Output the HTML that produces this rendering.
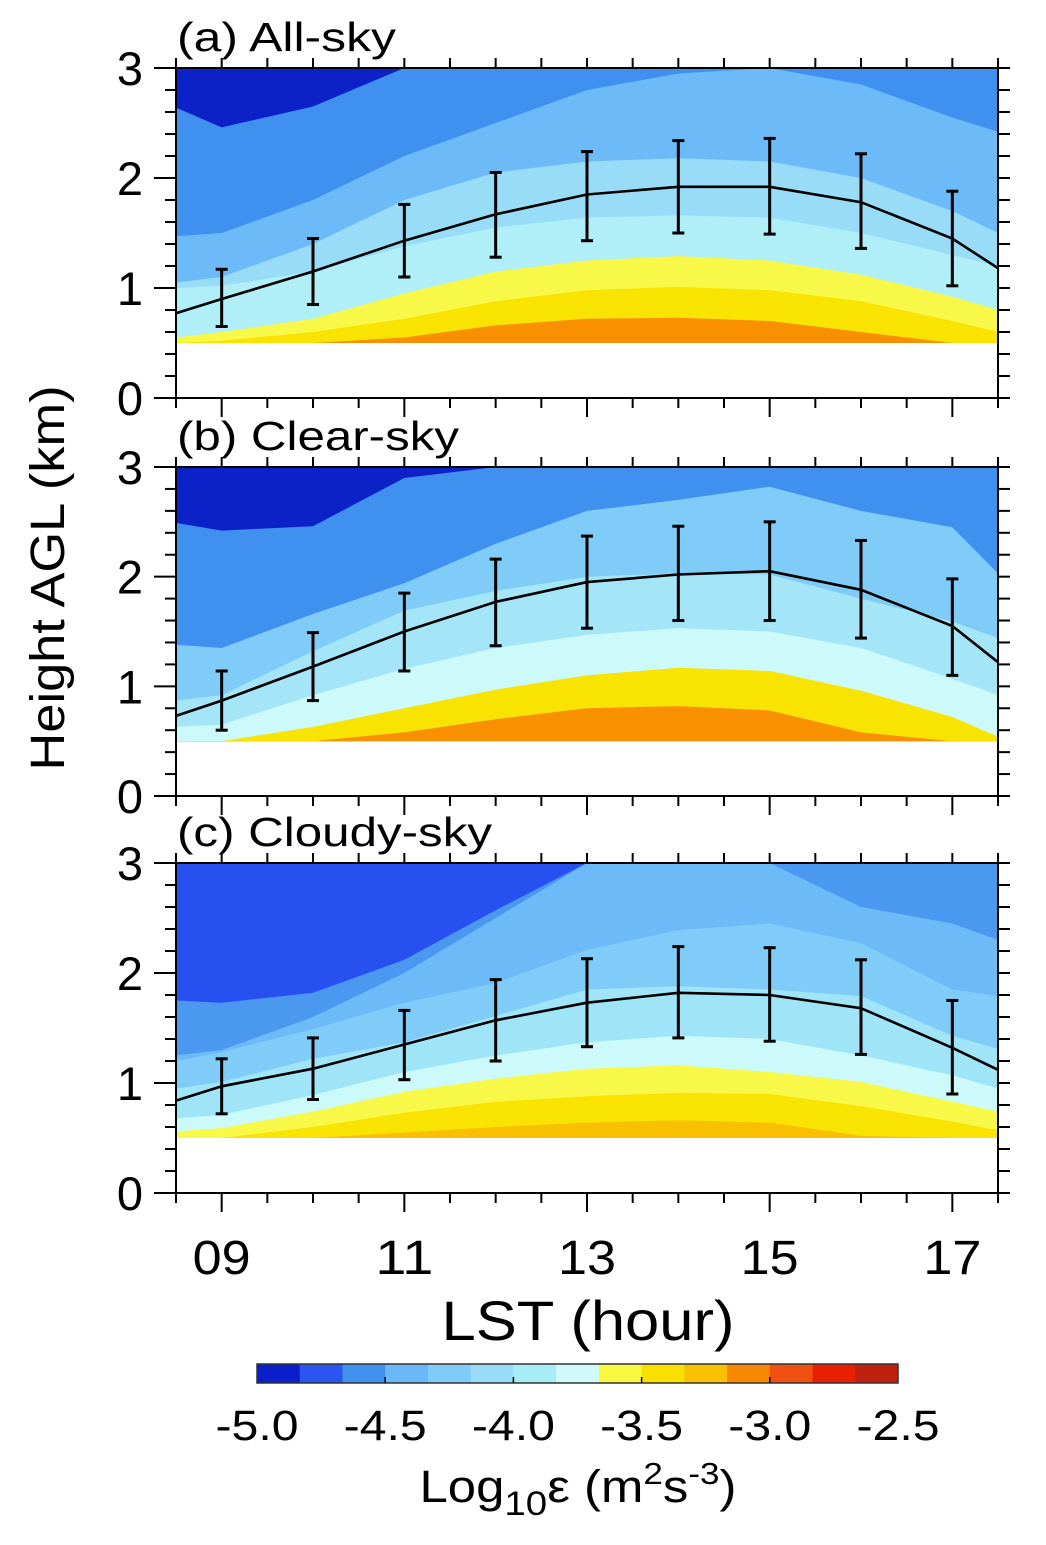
<!DOCTYPE html>
<html><head><meta charset="utf-8"><title>Diurnal dissipation rate</title>
<style>html,body{margin:0;padding:0;background:#fff}svg{display:block;font-family:"Liberation Sans",Arial,sans-serif}</style>
</head><body>
<svg id="fig" width="1046" height="1545" viewBox="0 0 1046 1545" xmlns="http://www.w3.org/2000/svg"></svg>
<script>
// ---- data ----
const hours = [8.5, 9, 10, 11, 12, 13, 14, 15, 16, 17, 17.5];
const tickHours = [9, 11, 13, 15, 17];
const tickHourLabels = ["09", "11", "13", "15", "17"];
const yTicks = [0, 1, 2, 3];
const cbValues = [-5.0, -4.5, -4.0, -3.5, -3.0, -2.5];
const cbLabels = ["-5.0", "-4.5", "-4.0", "-3.5", "-3.0", "-2.5"];
const cbColors = ["#0a1ecc","#2a55f0","#4090f0","#6ab8f8","#80ccf8","#98dcf8","#a8ecf8","#d0fafa","#f8f840","#f8e000","#f8c000","#f88800","#f05010","#e82000","#c02010"];

// panel (a) all-sky: band tops (km), bottom-up
const aOrange = [0.5,0.5,0.5,0.55,0.66,0.72,0.73,0.7,0.6,0.5,0.5];
const aYellow = [0.5,0.52,0.6,0.72,0.88,0.98,1.01,0.98,0.88,0.7,0.6];
const aLYellow = [0.55,0.6,0.72,0.95,1.15,1.25,1.29,1.25,1.12,0.92,0.8];
const aPale = [1.0,1.02,1.15,1.38,1.55,1.64,1.66,1.64,1.5,1.3,1.2];
const aCyan = [1.05,1.1,1.4,1.8,2.05,2.15,2.18,2.15,2.0,1.7,1.5];
const aLight = [1.47,1.5,1.8,2.2,2.5,2.8,2.95,3.0,2.85,2.55,2.42];
const aMid = [2.64,2.46,2.65,3.0,3,3,3,3,3,3,3];
const aMean = [0.77,0.9,1.15,1.43,1.67,1.85,1.92,1.92,1.78,1.45,1.18];
const aLow = [null,0.65,0.85,1.1,1.28,1.43,1.5,1.49,1.36,1.02,null];
const aHigh = [null,1.17,1.45,1.76,2.05,2.24,2.34,2.36,2.22,1.88,null];

// panel (b) clear-sky
const bOrange = [0.5,0.5,0.5,0.58,0.7,0.8,0.82,0.78,0.58,0.5,0.5];
const bYellow = [0.5,0.5,0.63,0.8,0.97,1.1,1.17,1.14,0.96,0.72,0.54];
const bPale = [0.63,0.65,0.92,1.16,1.35,1.47,1.53,1.5,1.35,1.07,0.92];
const bCyan = [0.87,0.92,1.32,1.69,1.87,2.0,2.03,2.02,1.8,1.59,1.44];
const bLight = [1.38,1.35,1.66,1.94,2.3,2.6,2.7,2.82,2.6,2.45,2.03];
const bMid = [2.49,2.42,2.46,2.9,3,3,3,3,3,3,3];
const bMean = [0.73,0.87,1.18,1.5,1.77,1.95,2.02,2.05,1.88,1.55,1.22];
const bLow = [null,0.6,0.87,1.14,1.37,1.53,1.6,1.6,1.44,1.1,null];
const bHigh = [null,1.14,1.49,1.85,2.16,2.37,2.46,2.5,2.33,1.98,null];

// panel (c) cloudy-sky
const cGold = [0.5,0.5,0.5,0.55,0.6,0.64,0.66,0.64,0.52,0.5,0.5];
const cYellow = [0.5,0.5,0.6,0.73,0.83,0.88,0.91,0.9,0.79,0.65,0.57];
const cLYellow = [0.56,0.59,0.74,0.92,1.04,1.13,1.16,1.1,1.01,0.83,0.74];
const cPale = [0.68,0.71,0.89,1.1,1.25,1.37,1.43,1.4,1.25,1.07,0.95];
const cCyan = [0.95,1.01,1.22,1.37,1.61,1.85,1.88,1.85,1.79,1.43,1.31];
const cLight1 = [1.2,1.28,1.49,1.73,1.91,2.21,2.39,2.45,2.27,1.85,1.79];
const cLight2 = [1.25,1.3,1.6,2.0,2.5,3,3,3,2.6,2.45,2.3];
const cMid = [1.75,1.73,1.82,2.12,2.57,3,3,3,3,3,3];
const cMean = [0.84,0.97,1.13,1.35,1.57,1.73,1.82,1.8,1.68,1.32,1.12];
const cLow = [null,0.72,0.85,1.03,1.2,1.33,1.41,1.38,1.26,0.9,null];
const cHigh = [null,1.22,1.41,1.66,1.94,2.13,2.24,2.23,2.12,1.75,null];

const panels = [
  {key:"a", title:"(a) All-sky", tlen:219, y3:68, y0:398, top:"#0c22c8",
   bands:[[aMid,"#4090f0"],[aLight,"#6cbaf8"],[aCyan,"#98dcf8"],[aPale,"#b0eef8"],[aLYellow,"#f8f848"],[aYellow,"#f8e400"],[aOrange,"#f89000"]],
   mean:aMean, low:aLow, high:aHigh},
  {key:"b", title:"(b) Clear-sky", tlen:282, y3:467, y0:796, top:"#0c22c8",
   bands:[[bMid,"#4090f0"],[bLight,"#80ccf8"],[bCyan,"#a4e6f8"],[bPale,"#ccfafa"],[bYellow,"#f8e400"],[bOrange,"#f89000"]],
   mean:bMean, low:bLow, high:bHigh},
  {key:"c", title:"(c) Cloudy-sky", tlen:315, y3:863, y0:1193, top:"#2850f0",
   bands:[[cMid,"#4a98f0"],[cLight2,"#6cbaf8"],[cLight1,"#80ccf8"],[cCyan,"#a0e4f8"],[cPale,"#ccfafa"],[cLYellow,"#f8f848"],[cYellow,"#f8e400"],[cGold,"#f8c000"]],
   mean:cMean, low:cLow, high:cHigh}
];

const NS = "http://www.w3.org/2000/svg";
const svg = document.getElementById("fig");
const X0 = 176, X1 = 998, H0 = 8.5, H1 = 17.5;
function xs(h){ return X0 + (h - H0) * (X1 - X0) / (H1 - H0); }
function ysF(p){ return km => p.y0 - km * (p.y0 - p.y3) / 3; }
function mk(tag, attrs, parent){
  const e = document.createElementNS(NS, tag);
  for (const k in attrs) e.setAttribute(k, attrs[k]);
  (parent || svg).appendChild(e);
  return e;
}

panels.forEach(p => {
  const ys = ysF(p);
  const g = mk("g", {});
  
  
  const bg = mk("rect", {x:X0, y:ys(3), width:X1-X0, height:ys(0.5)-ys(3), fill:p.top}, g);
  
  
  p.bands.forEach(([arr, col]) => {
    let d = "M" + xs(hours[0]) + "," + ys(0.5);
    hours.forEach((h, i) => { d += " L" + xs(h).toFixed(1) + "," + ys(arr[i]).toFixed(1); });
    d += " L" + xs(hours[hours.length-1]) + "," + ys(0.5) + " Z";
    const pa = mk("path", {d:d, fill:col}, g);
    
    
  });
  const fr = mk("rect", {x:X0, y:p.y3, width:X1-X0, height:p.y0-p.y3, fill:"none", stroke:"#000", "stroke-width":2}, g);
  
  
  for (let k = 0; k <= 15; k++) {
    const v = k * 0.2, y = ys(v), major = (k % 5 === 0);
    mk("line", {x1:major?154:165, x2:X0, y1:y, y2:y, stroke:"#000", "stroke-width":2}, g);
    mk("line", {x1:X1, x2:X1+12, y1:y, y2:y, stroke:"#000", "stroke-width":2}, g);
  }
  yTicks.forEach(v => {
    const t = mk("text", {x:143, y:ys(v)+17, "text-anchor":"end", "font-size":47}, g);
    t.textContent = String(v);
    
    
  });
  for (let h = 8.5; h <= 17.5; h += 0.5) {
    const x = xs(h), lab = tickHours.indexOf(h) >= 0;
    mk("line", {x1:x, x2:x, y1:p.y3-10, y2:p.y3, stroke:"#000", "stroke-width":2}, g);
    mk("line", {x1:x, x2:x, y1:p.y0, y2:p.y0+(lab?19:10), stroke:"#000", "stroke-width":2}, g);
  }
  const tt = mk("text", {x:177, y:p.y3-17, "font-size":41, textLength:p.tlen, lengthAdjust:"spacingAndGlyphs"}, g);
  tt.textContent = p.title;
  
  
  const pts = hours.map((h, i) => xs(h).toFixed(1) + "," + ys(p.mean[i]).toFixed(1)).join(" ");
  const ln = mk("polyline", {points:pts, fill:"none", stroke:"#000", "stroke-width":2.6}, g);
  
  
  hours.forEach((h, i) => {
    if (p.low[i] === null) return;
    const x = xs(h), eg = mk("g", {}, g);
    
    
    mk("line", {x1:x, x2:x, y1:ys(p.low[i]), y2:ys(p.high[i]), stroke:"#000", "stroke-width":3}, eg);
    mk("line", {x1:x-6, x2:x+6, y1:ys(p.low[i]), y2:ys(p.low[i]), stroke:"#000", "stroke-width":3}, eg);
    mk("line", {x1:x-6, x2:x+6, y1:ys(p.high[i]), y2:ys(p.high[i]), stroke:"#000", "stroke-width":3}, eg);
  });
});

tickHours.forEach((h, i) => {
  const t = mk("text", {x:xs(h), y:1274, "text-anchor":"middle", "font-size":48, textLength:58, lengthAdjust:"spacingAndGlyphs"});
  t.textContent = tickHourLabels[i];
  
  
});
const xt = mk("text", {x:588, y:1340, "text-anchor":"middle", "font-size":56, textLength:293, lengthAdjust:"spacingAndGlyphs"});
xt.textContent = "LST (hour)";


const yt = mk("text", {x:0, y:0, "text-anchor":"middle", "font-size":48, textLength:385, lengthAdjust:"spacingAndGlyphs", transform:"translate(64,578) rotate(-90)"});
yt.textContent = "Height AGL (km)";



const CB0 = 257, CB1 = 898, CBY = 1364, CBH = 19;
function cx(v){ return CB0 + (v - cbValues[0]) * (CB1 - CB0) / (cbValues[cbValues.length-1] - cbValues[0]); }
const cbg = mk("g", {});


const step = (cbValues[cbValues.length-1] - cbValues[0]) / cbColors.length;
cbColors.forEach((c, i) => {
  const r = mk("rect", {x:cx(cbValues[0]+i*step), y:CBY, width:cx(cbValues[0]+(i+1)*step)-cx(cbValues[0]+i*step)+0.5, height:CBH, fill:c}, cbg);
  
  
});
mk("rect", {x:CB0, y:CBY, width:CB1-CB0, height:CBH, fill:"none", stroke:"#333", "stroke-width":1.5}, cbg);
cbValues.forEach((v, i) => {
  if (i > 0 && i < cbValues.length-1) mk("line", {x1:cx(v), x2:cx(v), y1:CBY+CBH-6, y2:CBY+CBH, stroke:"#000", "stroke-width":1.5}, cbg);
  const t = mk("text", {x:cx(v), y:1440, "text-anchor":"middle", "font-size":43, textLength:83, lengthAdjust:"spacingAndGlyphs"}, cbg);
  t.textContent = cbLabels[i];
  
  
});
</script>
<svg width="1046" height="1545" style="position:absolute;left:0;top:0" xmlns="http://www.w3.org/2000/svg">
<text x="578" y="1502" text-anchor="middle" font-family="Liberation Sans, sans-serif" font-size="45" textLength="317" lengthAdjust="spacingAndGlyphs">Log<tspan font-size="34" dy="13">10</tspan><tspan dy="-13">ε (m</tspan><tspan font-size="31" dy="-18">2</tspan><tspan dy="18">s</tspan><tspan font-size="31" dy="-18">-3</tspan><tspan dy="18">)</tspan></text>
</svg>
</body></html>
